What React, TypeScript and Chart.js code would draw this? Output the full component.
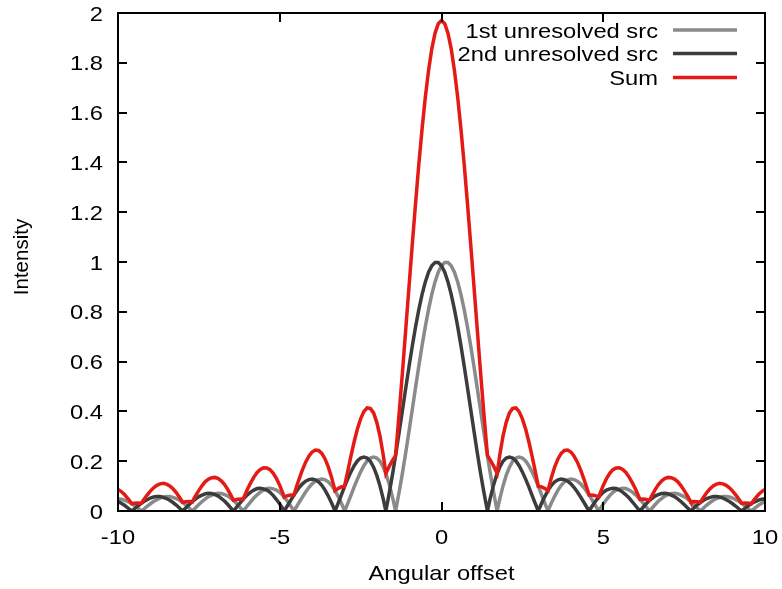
import React, { useEffect, useRef } from "react";
import { Chart, registerables } from "chart.js";

Chart.register(...registerables);

// x grid: -10 .. 10 step 0.1 (201 samples)
const X_MIN = -10;
const X_MAX = 10;
const X_STEP = 0.1;
const xGrid: number[] = Array.from({ length: 201 }, (_, i) => +(X_MIN + i * X_STEP).toFixed(1));

const firstSrc: number[] = [
  0.049, 0.047, 0.044, 0.038, 0.031, 0.023, 0.013, 0.003, 0.008, 0.019,
  0.029, 0.038, 0.045, 0.052, 0.056, 0.058, 0.058, 0.055, 0.050, 0.043,
  0.034, 0.024, 0.012, 0.001, 0.013, 0.026, 0.038, 0.049, 0.058, 0.064,
  0.069, 0.071, 0.070, 0.066, 0.060, 0.050, 0.039, 0.025, 0.010, 0.005,
  0.021, 0.037, 0.052, 0.065, 0.076, 0.084, 0.090, 0.091, 0.089, 0.084,
  0.075, 0.062, 0.046, 0.028, 0.008, 0.013, 0.035, 0.056, 0.076, 0.094,
  0.109, 0.120, 0.126, 0.128, 0.125, 0.117, 0.103, 0.084, 0.060, 0.033,
  0.003, 0.030, 0.063, 0.097, 0.128, 0.157, 0.182, 0.201, 0.213, 0.217,
  0.213, 0.200, 0.176, 0.143, 0.100, 0.048, 0.013, 0.083, 0.158, 0.239,
  0.324, 0.411, 0.498, 0.583, 0.665, 0.741, 0.810, 0.870, 0.920, 0.959,
  0.985, 0.998,
  0.998, 0.985, 0.959, 0.920, 0.870, 0.810, 0.741, 0.665, 0.583, 0.498,
  0.411, 0.324, 0.239, 0.158, 0.083, 0.013, 0.048, 0.100, 0.143, 0.176,
  0.200, 0.213, 0.217, 0.213, 0.201, 0.182, 0.157, 0.128, 0.097, 0.063,
  0.030, 0.003, 0.033, 0.060, 0.084, 0.103, 0.117, 0.125, 0.128, 0.126,
  0.120, 0.109, 0.094, 0.076, 0.056, 0.035, 0.013, 0.008, 0.028, 0.046,
  0.062, 0.075, 0.084, 0.089, 0.091, 0.090, 0.084, 0.076, 0.065, 0.052,
  0.037, 0.021, 0.005, 0.010, 0.025, 0.039, 0.050, 0.060, 0.066, 0.070,
  0.071, 0.069, 0.064, 0.058, 0.049, 0.038, 0.026, 0.013, 0.001, 0.012,
  0.024, 0.034, 0.043, 0.050, 0.055, 0.058, 0.058, 0.056, 0.052, 0.045,
  0.038, 0.029, 0.019, 0.008, 0.003, 0.013, 0.023, 0.031, 0.038,
];

const secondSrc: number[] = [
  0.038, 0.031, 0.023, 0.013, 0.003, 0.008, 0.019, 0.029, 0.038,
  0.045, 0.052, 0.056, 0.058, 0.058, 0.055, 0.050, 0.043, 0.034, 0.024,
  0.012, 0.001, 0.013, 0.026, 0.038, 0.049, 0.058, 0.064, 0.069, 0.071,
  0.070, 0.066, 0.060, 0.050, 0.039, 0.025, 0.010, 0.005, 0.021, 0.037,
  0.052, 0.065, 0.076, 0.084, 0.090, 0.091, 0.089, 0.084, 0.075, 0.062,
  0.046, 0.028, 0.008, 0.013, 0.035, 0.056, 0.076, 0.094, 0.109, 0.120,
  0.126, 0.128, 0.125, 0.117, 0.103, 0.084, 0.060, 0.033, 0.003, 0.030,
  0.063, 0.097, 0.128, 0.157, 0.182, 0.201, 0.213, 0.217, 0.213, 0.200,
  0.176, 0.143, 0.100, 0.048, 0.013, 0.083, 0.158, 0.239, 0.324, 0.411,
  0.498, 0.583, 0.665, 0.741, 0.810, 0.870, 0.920, 0.959, 0.985, 0.998,
  0.998, 0.985, 0.959, 0.920, 0.870, 0.810, 0.741, 0.665, 0.583, 0.498,
  0.411, 0.324, 0.239, 0.158, 0.083, 0.013, 0.048, 0.100, 0.143, 0.176,
  0.200, 0.213, 0.217, 0.213, 0.201, 0.182, 0.157, 0.128, 0.097, 0.063,
  0.030, 0.003, 0.033, 0.060, 0.084, 0.103, 0.117, 0.125, 0.128, 0.126,
  0.120, 0.109, 0.094, 0.076, 0.056, 0.035, 0.013, 0.008, 0.028, 0.046,
  0.062, 0.075, 0.084, 0.089, 0.091, 0.090, 0.084, 0.076, 0.065, 0.052,
  0.037, 0.021, 0.005, 0.010, 0.025, 0.039, 0.050, 0.060, 0.066, 0.070,
  0.071, 0.069, 0.064, 0.058, 0.049, 0.038, 0.026, 0.013, 0.001, 0.012,
  0.024, 0.034, 0.043, 0.050, 0.055, 0.058, 0.058, 0.056, 0.052, 0.045,
  0.038, 0.029, 0.019, 0.008, 0.003, 0.013, 0.023, 0.031, 0.038, 0.044,
  0.047, 0.049,
];

const sumSrc: number[] = [
  0.087, 0.078, 0.066, 0.051, 0.034, 0.031, 0.032, 0.031, 0.046,
  0.064, 0.080, 0.093, 0.103, 0.109, 0.111, 0.108, 0.101, 0.089, 0.074,
  0.055, 0.035, 0.037, 0.038, 0.038, 0.062, 0.083, 0.102, 0.118, 0.128,
  0.134, 0.135, 0.130, 0.120, 0.105, 0.085, 0.061, 0.044, 0.047, 0.048,
  0.057, 0.087, 0.113, 0.136, 0.155, 0.167, 0.174, 0.173, 0.166, 0.151,
  0.130, 0.103, 0.070, 0.060, 0.063, 0.064, 0.090, 0.129, 0.165, 0.196,
  0.220, 0.237, 0.245, 0.243, 0.231, 0.209, 0.177, 0.136, 0.087, 0.090,
  0.097, 0.099, 0.158, 0.220, 0.278, 0.329, 0.370, 0.399, 0.414, 0.412,
  0.394, 0.356, 0.300, 0.224, 0.157, 0.183, 0.206, 0.253, 0.407, 0.569,
  0.738, 0.908, 1.076, 1.239, 1.394, 1.535, 1.662, 1.769, 1.856, 1.919,
  1.957, 1.970, 1.957,
  1.919, 1.856, 1.769, 1.662, 1.535, 1.394, 1.239, 1.076, 0.908, 0.738,
  0.569, 0.407, 0.253, 0.206, 0.183, 0.157, 0.224, 0.300, 0.356, 0.394,
  0.412, 0.414, 0.399, 0.370, 0.329, 0.278, 0.220, 0.158, 0.099, 0.097,
  0.090, 0.087, 0.136, 0.177, 0.209, 0.231, 0.243, 0.245, 0.237, 0.220,
  0.196, 0.165, 0.129, 0.090, 0.064, 0.063, 0.060, 0.070, 0.103, 0.130,
  0.151, 0.166, 0.173, 0.174, 0.167, 0.155, 0.136, 0.113, 0.087, 0.057,
  0.048, 0.047, 0.044, 0.061, 0.085, 0.105, 0.120, 0.130, 0.135, 0.134,
  0.128, 0.118, 0.102, 0.083, 0.062, 0.038, 0.038, 0.037, 0.035, 0.055,
  0.074, 0.089, 0.101, 0.108, 0.111, 0.109, 0.103, 0.093, 0.080, 0.064,
  0.046, 0.031, 0.032, 0.031, 0.034, 0.051, 0.066, 0.078, 0.087,
];

// zero crossings (cusps)
const firstZerosX: number[] = [-9.275, -7.704, -6.133, -4.562, -2.992, -1.421, 1.721, 3.292, 4.862, 6.433, 8.004, 9.575];
const secondZerosX: number[] = [-9.575, -8.004, -6.433, -4.862, -3.292, -1.721, 1.421, 2.992, 4.562, 6.133, 7.704, 9.275];
const sumCuspX: number[] = [-9.575, -9.275, -8.004, -7.704, -6.433, -6.133, -4.862, -4.562, -3.292, -2.992, -1.721, -1.421,
  1.421, 1.721, 2.992, 3.292, 4.562, 4.862, 6.133, 6.433, 7.704, 8.004, 9.275, 9.575];
const sumCuspY: number[] = [0.029, 0.031, 0.035, 0.037, 0.043, 0.047, 0.056, 0.064, 0.082, 0.099, 0.151, 0.222,
  0.222, 0.151, 0.099, 0.082, 0.064, 0.056, 0.047, 0.043, 0.037, 0.035, 0.031, 0.029];

const seriesNames = ["1st unresolved src", "2nd unresolved src", "Sum"];
const seriesColors = ["#8a8a8a", "#3c3c3c", "#e41a14"];

const xTicks: number[] = [-10, -5, 0, 5, 10];
const yTicks: number[] = [0, 0.2, 0.4, 0.6, 0.8, 1, 1.2, 1.4, 1.6, 1.8, 2];
const yTickLabels: string[] = ["0", "0.2", "0.4", "0.6", "0.8", "1", "1.2", "1.4", "1.6", "1.8", "2"];
const xTitle = "Angular offset";
const yTitle = "Intensity";

function buildPoints(ys: number[], extraX: number[], extraY: number[]) {
  const pts = xGrid.map((x, i) => ({ x, y: ys[i] }));
  extraX.forEach((x, i) => pts.push({ x, y: extraY[i] }));
  pts.sort((a, b) => a.x - b.x);
  return pts;
}

const FONT = "21px 'Liberation Sans', Arial, sans-serif";
const SX = 1.13;

function stretchedText(ctx: CanvasRenderingContext2D, text: string, x: number, y: number, align: CanvasTextAlign) {
  ctx.save();
  ctx.translate(x, y);
  ctx.scale(SX, 1);
  ctx.textAlign = align;
  ctx.textBaseline = "alphabetic";
  ctx.fillText(text, 0, 0);
  ctx.restore();
}

const decorPlugin = {
  id: "gnuplotDecor",
  afterDatasetsDraw(chart: any) {
    const ctx: CanvasRenderingContext2D = chart.ctx;
    const { left, right, top, bottom } = chart.chartArea;
    const xs = chart.scales.x;
    const ys = chart.scales.y;
    const TL = 9;
    ctx.save();
    ctx.strokeStyle = "#000";
    ctx.lineWidth = 2;
    ctx.beginPath();
    ctx.rect(left, top, right - left, bottom - top);
    ctx.stroke();
    ctx.beginPath();
    xTicks.forEach((v) => {
      const px = Math.round(xs.getPixelForValue(v));
      ctx.moveTo(px, bottom);
      ctx.lineTo(px, bottom - TL);
      ctx.moveTo(px, top);
      ctx.lineTo(px, top + TL);
    });
    yTicks.forEach((v) => {
      const py = Math.round(ys.getPixelForValue(v));
      ctx.moveTo(left, py);
      ctx.lineTo(left + TL, py);
      ctx.moveTo(right, py);
      ctx.lineTo(right - TL, py);
    });
    ctx.stroke();

    ctx.fillStyle = "#000";
    ctx.font = FONT;
    xTicks.forEach((v) => {
      stretchedText(ctx, String(v), xs.getPixelForValue(v), bottom + 33, "center");
    });
    yTicks.forEach((v, i) => {
      stretchedText(ctx, yTickLabels[i], left - 15, ys.getPixelForValue(v) + 7.5, "right");
    });
    stretchedText(ctx, xTitle, (left + right) / 2, bottom + 69, "center");

    ctx.save();
    ctx.font = "20.5px 'Liberation Sans', Arial, sans-serif";
    ctx.translate(28, 257);
    ctx.rotate(-Math.PI / 2);
    ctx.textAlign = "center";
    ctx.textBaseline = "alphabetic";
    ctx.fillText(yTitle, 0, 0);
    ctx.restore();

    // legend
    const rowsY = [30, 53.5, 77.5];
    seriesNames.forEach((name, i) => {
      stretchedText(ctx, name, 658, rowsY[i] + 7.5, "right");
      ctx.strokeStyle = seriesColors[i];
      ctx.lineWidth = 3.5;
      ctx.beginPath();
      ctx.moveTo(673, rowsY[i]);
      ctx.lineTo(737, rowsY[i]);
      ctx.stroke();
    });
    ctx.restore();
  },
};

export default function App() {
  const ref = useRef<HTMLCanvasElement | null>(null);
  useEffect(() => {
    if (!ref.current) return;
    const zeros = (n: number) => Array.from({ length: n }, () => 0);
    const chart = new Chart(ref.current, {
      type: "line",
      data: {
        datasets: [
          {
            label: seriesNames[2],
            data: buildPoints(sumSrc, sumCuspX, sumCuspY),
            borderColor: seriesColors[2],
            borderWidth: 3.5,
            pointRadius: 0,
            tension: 0,
            fill: false,
            order: 0,
          },
          {
            label: seriesNames[1],
            data: buildPoints(secondSrc, secondZerosX, zeros(secondZerosX.length)),
            borderColor: seriesColors[1],
            borderWidth: 3.5,
            pointRadius: 0,
            tension: 0,
            fill: false,
            order: 1,
          },
          {
            label: seriesNames[0],
            data: buildPoints(firstSrc, firstZerosX, zeros(firstZerosX.length)),
            borderColor: seriesColors[0],
            borderWidth: 3.5,
            pointRadius: 0,
            tension: 0,
            fill: false,
            order: 2,
          },
        ],
      },
      options: {
        animation: false,
        responsive: false,
        devicePixelRatio: 1,
        layout: { padding: { left: 118, right: 17, top: 13, bottom: 78 } },
        plugins: { legend: { display: false }, tooltip: { enabled: false } },
        scales: {
          x: { type: "linear", min: X_MIN, max: X_MAX, display: false },
          y: { type: "linear", min: 0, max: 2, display: false },
        },
      },
      plugins: [decorPlugin],
    });
    return () => chart.destroy();
  }, []);
  return (
    <div style={{ position: "absolute", left: 0, top: 0, width: 782, height: 589, background: "#fff" }}>
      <canvas ref={ref} width={782} height={589} />
    </div>
  );
}
